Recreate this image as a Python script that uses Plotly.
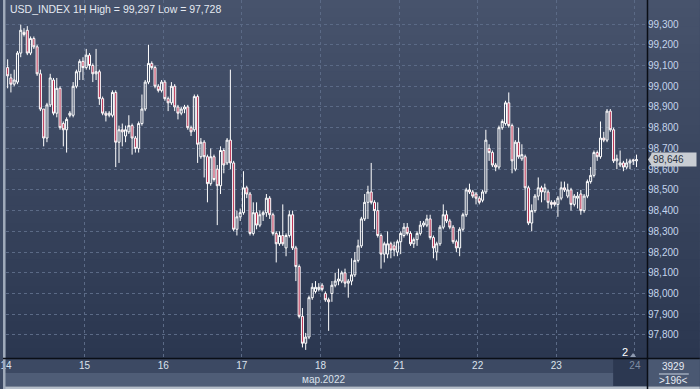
import plotly.graph_objects as go

# ---------------- data (hourly candles, 14-24 Mar 2022) ----------------
opens = [99.09,99.04,99.01,99.02,99.16,99.26,99.27,99.16,99.23,99.19,99.06,98.89,98.75,98.91,99.03,98.87,98.99,98.82,98.79,98.86,98.86,99.00,99.07,99.12,
         99.09,99.15,99.10,99.06,99.07,98.94,98.87,98.86,98.86,98.97,98.73,98.79,98.76,98.78,98.81,98.75,98.70,98.82,98.89,99.02,99.11,99.09,99.00,98.98,
         99.02,98.94,98.92,99.00,98.90,98.87,98.89,98.90,98.80,98.79,98.95,98.66,98.73,98.66,98.53,98.66,98.60,98.52,98.69,98.63,98.74,98.63,98.31,98.37,
         98.39,98.51,98.48,98.29,98.39,98.33,98.38,98.39,98.46,98.38,98.29,98.24,98.28,98.22,98.28,98.38,98.22,98.13,97.89,97.76,97.79,97.98,98.01,98.02,
         98.04,98.00,97.97,98.00,98.04,98.06,98.06,98.10,98.05,98.06,98.09,98.16,98.23,98.36,98.44,98.49,98.44,98.40,98.28,98.19,98.19,98.24,98.23,98.20,
         98.25,98.28,98.32,98.29,98.24,98.26,98.29,98.33,98.33,98.36,98.27,98.20,98.24,98.32,98.38,98.35,98.32,98.25,98.22,98.31,98.38,98.50,98.49,98.48,
         98.46,98.45,98.49,98.70,98.68,98.62,98.61,98.80,98.82,98.92,98.81,98.60,98.73,98.65,98.66,98.51,98.34,98.40,98.47,98.51,98.49,98.49,98.44,98.44,
         98.43,98.46,98.51,98.47,98.50,98.43,98.46,98.48,98.40,98.47,98.54,98.57,98.68,98.66,98.75,98.74,98.88,98.79,98.64,98.62,98.63,98.61,98.63,98.645,
         98.64]
highs = [99.13,99.06,99.08,99.17,99.297,99.28,99.29,99.24,99.24,99.20,99.08,98.89,98.92,99.06,99.04,99.04,99.00,98.83,98.85,98.88,99.02,99.08,99.13,99.14,
         99.18,99.16,99.11,99.18,99.08,98.95,98.88,98.88,98.98,98.98,98.81,98.82,98.81,98.86,98.82,98.76,98.83,98.96,99.03,99.20,99.12,99.10,99.01,99.03,
         99.03,98.95,99.02,99.01,98.91,98.90,98.91,98.91,98.81,98.96,98.96,98.75,98.74,98.67,98.70,98.67,98.62,98.71,98.70,98.75,99.08,98.64,98.40,98.41,
         98.59,98.52,98.49,98.44,98.44,98.40,98.40,98.48,98.47,98.39,98.30,98.30,98.43,98.29,98.40,98.40,98.23,98.14,97.93,97.81,97.99,98.05,98.06,98.05,
         98.05,98.01,97.98,98.06,98.10,98.12,98.11,98.12,98.07,98.17,98.20,98.26,98.37,98.48,98.52,98.63,98.45,98.44,98.29,98.25,98.30,98.25,98.25,98.26,
         98.30,98.34,98.34,98.30,98.27,98.30,98.35,98.35,98.38,98.38,98.28,98.25,98.33,98.43,98.40,98.36,98.33,98.26,98.32,98.39,98.51,98.53,98.50,98.49,
         98.47,98.50,98.79,98.72,98.69,98.63,98.81,98.84,98.93,98.97,98.82,98.74,98.80,98.72,98.67,98.52,98.43,98.48,98.56,98.52,98.53,98.50,98.45,98.45,
         98.47,98.54,98.54,98.53,98.51,98.48,98.49,98.50,98.48,98.55,98.61,98.69,98.69,98.83,98.78,98.89,98.89,98.80,98.67,98.69,98.64,98.65,98.65,98.65,
         98.67]
lows = [98.99,98.97,99.00,99.01,99.14,99.24,99.15,99.15,99.18,99.05,98.88,98.71,98.73,98.90,98.86,98.85,98.79,98.71,98.68,98.85,98.85,98.99,99.03,99.03,
        99.08,99.08,99.02,99.03,98.91,98.86,98.83,98.85,98.85,98.61,98.63,98.71,98.73,98.77,98.67,98.68,98.68,98.81,98.88,99.01,99.08,98.99,98.97,98.97,
        98.93,98.88,98.91,98.88,98.84,98.86,98.87,98.79,98.76,98.78,98.63,98.65,98.56,98.44,98.52,98.54,98.33,98.48,98.58,98.62,98.60,98.30,98.28,98.35,
        98.38,98.46,98.28,98.28,98.31,98.32,98.35,98.37,98.36,98.28,98.15,98.23,98.23,98.18,98.27,98.21,98.06,97.88,97.74,97.728,97.78,97.97,98.00,98.01,
        98.01,97.96,97.82,97.96,98.03,98.04,98.05,98.03,97.98,98.04,98.08,98.15,98.22,98.35,98.36,98.43,98.31,98.27,98.12,98.15,98.17,98.17,98.18,98.18,
        98.19,98.27,98.28,98.23,98.22,98.23,98.28,98.32,98.32,98.26,98.17,98.16,98.23,98.31,98.34,98.31,98.24,98.20,98.18,98.30,98.37,98.48,98.46,98.43,
        98.43,98.44,98.48,98.64,98.61,98.59,98.60,98.79,98.81,98.80,98.58,98.59,98.65,98.64,98.40,98.33,98.30,98.39,98.45,98.44,98.45,98.41,98.41,98.42,
        98.37,98.45,98.49,98.46,98.40,98.42,98.41,98.38,98.39,98.46,98.53,98.56,98.64,98.65,98.73,98.73,98.78,98.63,98.60,98.61,98.59,98.60,98.60,98.62,
        98.61]
closes = [99.05,99.01,99.03,99.16,99.27,99.25,99.16,99.23,99.19,99.06,98.89,98.75,98.91,99.04,98.87,98.99,98.80,98.79,98.84,98.87,99.00,99.07,99.12,99.09,
          99.15,99.10,99.06,99.07,98.94,98.87,98.86,98.87,98.97,98.73,98.79,98.78,98.79,98.81,98.75,98.70,98.82,98.89,99.02,99.11,99.09,99.00,98.98,99.02,
          98.94,98.92,99.00,98.90,98.87,98.89,98.90,98.80,98.78,98.95,98.72,98.73,98.66,98.53,98.66,98.55,98.52,98.69,98.62,98.74,98.63,98.31,98.37,98.39,
          98.51,98.48,98.29,98.39,98.33,98.38,98.39,98.46,98.38,98.29,98.24,98.28,98.24,98.28,98.38,98.22,98.13,97.89,97.76,97.79,97.98,98.03,98.03,98.03,
          98.02,97.97,97.96,98.04,98.06,98.07,98.10,98.05,98.06,98.09,98.16,98.23,98.36,98.44,98.49,98.44,98.40,98.28,98.19,98.24,98.24,98.21,98.21,98.25,
          98.29,98.32,98.29,98.24,98.26,98.29,98.33,98.34,98.36,98.27,98.22,98.24,98.32,98.38,98.35,98.32,98.25,98.22,98.31,98.38,98.50,98.49,98.47,98.46,
          98.44,98.49,98.74,98.68,98.62,98.61,98.80,98.83,98.92,98.81,98.64,98.73,98.66,98.67,98.51,98.34,98.40,98.47,98.51,98.49,98.51,98.44,98.43,98.43,
          98.46,98.51,98.50,98.50,98.43,98.47,98.47,98.40,98.47,98.54,98.57,98.68,98.66,98.75,98.74,98.88,98.79,98.64,98.65,98.63,98.61,98.63,98.64,98.64,
          98.646]

day_labels = ["14", "15", "16", "17", "18", "21", "22", "23", "24"]
day_first_bar = [0, 24, 48, 72, 96, 120, 144, 168, 192]
price_ticks = [97.8, 97.9, 98.0, 98.1, 98.2, 98.3, 98.4, 98.5, 98.6, 98.7, 98.8, 98.9, 99.0, 99.1, 99.2, 99.3]
last_price = 98.646
title_text = "USD_INDEX 1H High = 99,297 Low = 97,728"
month_text = "мар.2022"
bars_total = "3929"
bars_visible = ">196<"

bar_idx = list(range(len(closes)))

# ---------------- figure ----------------
W, H = 700, 389
ML, MR, MT, MB = 3, 53, 0, 31
PW, PH = W - ML - MR, H - MT - MB

def px(x):  # pixel x -> paper x
    return (x - ML) / PW

def py(y):  # pixel y -> paper y
    return (H - MB - y) / PH

fig = go.Figure()
fig.add_trace(go.Candlestick(
    x=bar_idx, open=opens, high=highs, low=lows, close=closes,
    increasing=dict(line=dict(color="#ffffff", width=1), fillcolor="rgba(0,0,0,0)"),
    decreasing=dict(line=dict(color="#ffffff", width=1), fillcolor="#b8284a"),
    whiskerwidth=0, showlegend=False, hoverinfo="skip"))

shapes = []
# gradient background (plot + right price panel)
top = (0x47, 0x53, 0x6c)
bot = (0x2b, 0x37, 0x50)
N = 40
for k in range(N):
    t = (k + 0.5) / N
    c = tuple(round(top[j] + (bot[j] - top[j]) * t) for j in range(3))
    shapes.append(dict(type="rect", xref="paper", yref="paper",
                       x0=px(3), x1=px(700), y0=py(358 * (k + 1) / N) - 0.001, y1=py(358 * k / N) + 0.001,
                       fillcolor="rgb(%d,%d,%d)" % c, line=dict(width=0), layer="below"))
# bottom axis rows
shapes.append(dict(type="rect", xref="paper", yref="paper", x0=px(0), x1=px(647), y0=py(373), y1=py(358),
                   fillcolor="#3c4963", line=dict(width=0), layer="below"))
shapes.append(dict(type="rect", xref="paper", yref="paper", x0=px(0), x1=px(647), y0=py(386), y1=py(373),
                   fillcolor="#4f5d77", line=dict(width=0), layer="below"))
# shaded current-day box
shapes.append(dict(type="rect", xref="paper", yref="paper", x0=px(613), x1=px(647), y0=py(386), y1=py(359),
                   fillcolor="#2c3851", line=dict(width=0), layer="below"))
# bottom right counter box
shapes.append(dict(type="rect", xref="paper", yref="paper", x0=px(648), x1=px(700), y0=py(386), y1=py(359),
                   fillcolor="#4a5872", line=dict(width=0), layer="below"))
shapes.append(dict(type="line", xref="paper", yref="paper", x0=px(659), x1=px(689), y0=py(374), y1=py(374),
                   line=dict(color="#c8d2e0", width=1), layer="above"))
# bottom light border
shapes.append(dict(type="rect", xref="paper", yref="paper", x0=px(0), x1=px(700), y0=py(389), y1=py(386.5),
                   fillcolor="#b4bdc9", line=dict(width=0), layer="above"))
# left border
shapes.append(dict(type="rect", xref="paper", yref="paper", x0=px(0), x1=px(2.5), y0=py(389), y1=py(0),
                   fillcolor="#a0abbb", line=dict(width=0), layer="above"))
# separators
shapes.append(dict(type="line", xref="paper", yref="paper", x0=px(0), x1=px(700), y0=py(358.5), y1=py(358.5),
                   line=dict(color="#0a0e16", width=1.5), layer="above"))
shapes.append(dict(type="line", xref="paper", yref="paper", x0=px(647.5), x1=px(647.5), y0=py(389), y1=py(0),
                   line=dict(color="#0a0e16", width=1.5), layer="above"))
# price tag pointer
shapes.append(dict(type="path", xref="paper", yref="y",
                   path="M %f,%f L %f,%f L %f,%f Z" % (px(648), last_price, px(652), last_price + 0.03,
                                                      px(652), last_price - 0.03),
                   fillcolor="#c9cdd3", line=dict(width=0), layer="above"))
# small marker near "2"
shapes.append(dict(type="path", xref="paper", yref="paper",
                   path="M %f,%f L %f,%f L %f,%f Z" % (px(630), py(357), px(636), py(357), px(633), py(353)),
                   fillcolor="#8f9bb0", line=dict(width=0), layer="above"))

ann = [
    dict(text=title_text, x=px(5), y=py(9), xref="paper", yref="paper", xanchor="left", yanchor="middle",
         showarrow=False, font=dict(family="Liberation Sans, Arial", size=10.5, color="#e4e9f1")),
    dict(text=month_text, x=px(346), y=py(379.5), xref="paper", yref="paper", xanchor="right", yanchor="middle",
         showarrow=False, font=dict(family="Liberation Sans, Arial", size=10, color="#dbe2ec")),
    dict(text=bars_total, x=px(674), y=py(366.5), xref="paper", yref="paper", xanchor="center", yanchor="middle",
         showarrow=False, font=dict(family="Liberation Sans, Arial", size=10, color="#e6ebf2")),
    dict(text=bars_visible, x=px(674), y=py(380.5), xref="paper", yref="paper", xanchor="center", yanchor="middle",
         showarrow=False, font=dict(family="Liberation Sans, Arial", size=10, color="#e6ebf2")),
    dict(text="2", x=px(625), y=py(352), xref="paper", yref="paper", xanchor="center", yanchor="middle",
         showarrow=False, font=dict(family="Liberation Sans, Arial", size=11, color="#ffffff")),
    dict(text=f"{last_price:.3f}".replace(".", ","), x=px(651), y=last_price, xref="paper", yref="y",
         xanchor="left", yanchor="middle", showarrow=False, bgcolor="#c9cdd3", borderpad=1,
         width=42, align="left",
         font=dict(family="Liberation Sans, Arial", size=10, color="#2a3140")),
]

tick_pos = [b - 0.5 for b in day_first_bar]
tick_txt = list(day_labels)
tick_txt[-1] = "<span style='color:#7f8ca3'>" + tick_txt[-1] + "</span>"

fig.update_layout(
    width=W, height=H, margin=dict(l=ML, r=MR, t=MT, b=MB, pad=0),
    paper_bgcolor="#3c4963", plot_bgcolor="rgba(0,0,0,0)",
    separators=", ", shapes=shapes, annotations=ann, boxgap=0.12,
    font=dict(family="Liberation Sans, Arial", size=10),
    xaxis=dict(range=[-0.5, 195.2], rangeslider=dict(visible=False), tickmode="array",
               tickvals=tick_pos, ticktext=tick_txt, showgrid=True, gridcolor="#5b6a86",
               griddash="3px,3px", gridwidth=1, zeroline=False, showline=False, ticks="",
               ticklabeloverflow="allow",
               tickfont=dict(family="Liberation Sans, Arial", size=10, color="#dbe2ec")),
    yaxis=dict(range=[97.689, 99.416], side="right", tickmode="array", tickvals=price_ticks,
               tickformat=".3f", showgrid=True, gridcolor="#5b6a86", griddash="3px,3px", gridwidth=1,
               zeroline=False, showline=False, ticks="",
               tickfont=dict(family="Liberation Sans, Arial", size=10, color="#c4d4ec")),
)

fig.write_html("out.html", config={"displayModeBar": False},
               post_script="document.body.style.margin='0px';document.body.style.overflow='hidden';")
